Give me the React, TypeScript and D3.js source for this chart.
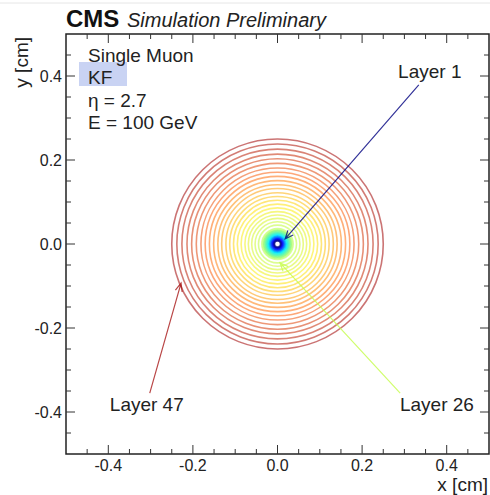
import React from 'react';
import * as d3 from 'd3';

// layer radii in cm (layer 1 .. 47)
const layerRadii = [
  0.0070, 0.0080, 0.0090, 0.0100, 0.0110, 0.0121, 0.0132, 0.0143, 0.0154, 0.0165,
  0.0176, 0.0187, 0.0198, 0.0209, 0.0220, 0.0232, 0.0244, 0.0256, 0.0268, 0.0281,
  0.0294, 0.0308, 0.0323, 0.0340, 0.0370, 0.0450, 0.0530, 0.0610, 0.0690, 0.0770,
  0.0860, 0.0950, 0.1040, 0.1130, 0.1220, 0.1320, 0.1410, 0.1510, 0.1610, 0.1710,
  0.1810, 0.1920, 0.2030, 0.2140, 0.2260, 0.2380, 0.2500,
];

const majorTicks = [-0.4, -0.2, 0.0, 0.2, 0.4];
const tickLabels = ['-0.4', '-0.2', '0.0', '0.2', '0.4'];

const infoLines = ['Single Muon', 'KF', 'η = 2.7', 'E = 100 GeV'];

// annotations: which layer, label position, arrow from -> to (cm)
const annotations = [
  { layer: 1, label: 'Layer 1', at: [0.36, 0.396], from: [0.334, 0.379], to: [0.018, 0.012] },
  { layer: 26, label: 'Layer 26', at: [0.377, -0.397], from: [0.29, -0.355], to: [0.006, -0.045] },
  { layer: 47, label: 'Layer 47', at: [-0.309, -0.397], from: [-0.302, -0.355], to: [-0.228, -0.093] },
];

// rainbow palette, layer 1 -> 47
const paletteStops = [0, 0.09, 0.28, 0.52, 0.66, 0.84, 1];
const paletteColors = ['#000080', '#0000ff', '#00f0ff', '#b8ff50', '#ffee20', '#ff7020', '#a81818'];
const FONT = 'Liberation Sans, Arial, Helvetica, sans-serif';

export default function App() {
  const x = d3.scaleLinear().domain([-0.5, 0.5]).range([66, 489]);
  const y = d3.scaleLinear().domain([-0.5, 0.5]).range([454, 34]);
  const palette = d3.scaleLinear<string>().domain(paletteStops).range(paletteColors).interpolate(d3.interpolateRgb);
  const color = (layer: number) => palette((layer - 1) / (layerRadii.length - 1));
  const minor = x.ticks(20);
  const left = x.range()[0], right = x.range()[1];
  const top = y.range()[1], bottom = y.range()[0];

  const arrowPath = (a: typeof annotations[0]) => {
    const x1 = x(a.from[0]), y1 = y(a.from[1]);
    const x2 = x(a.to[0]), y2 = y(a.to[1]);
    const ang = Math.atan2(y2 - y1, x2 - x1);
    const len = 9, spread = 0.4;
    const p1 = [x2 - len * Math.cos(ang - spread), y2 - len * Math.sin(ang - spread)];
    const p2 = [x2 - len * Math.cos(ang + spread), y2 - len * Math.sin(ang + spread)];
    return `M${x1},${y1}L${x2},${y2}M${p1[0]},${p1[1]}L${x2},${y2}L${p2[0]},${p2[1]}`;
  };

  return (
    <svg width={490} height={495} style={{ position: 'absolute', left: 0, top: 0 }} fontFamily={FONT}>
      <rect width={490} height={495} fill="#fff" />
      <line x1={0} x2={490} y1={3} y2={3} stroke="#e6e6e6" />

      {/* rings, outermost first */}
      {layerRadii.map((r, i) => ({ r, layer: i + 1 })).reverse().map(d => (
        <ellipse key={d.layer} cx={x(0)} cy={y(0)}
          rx={x(d.r) - x(0)} ry={y(0) - y(d.r)}
          fill="none" stroke={color(d.layer)} strokeWidth={1.6} strokeOpacity={0.6} />
      ))}

      {/* arrows + labels */}
      {annotations.map(a => (
        <g key={a.label}>
          <path d={arrowPath(a)} fill="none" stroke={color(a.layer)} strokeWidth={1.2} strokeOpacity={0.8} />
          <text x={x(a.at[0])} y={y(a.at[1])} textAnchor="middle" fontSize={19} fill="#222">{a.label}</text>
        </g>
      ))}

      {/* frame */}
      <rect x={left} y={top} width={right - left} height={bottom - top} fill="none" stroke="#222" strokeWidth={1.5} />

      {/* ticks on all four sides */}
      {minor.map(t => {
        const major = majorTicks.some(m => Math.abs(m - t) < 1e-6);
        const L = major ? 9 : 5;
        if (t <= -0.5 || t >= 0.5) return null;
        return (
          <g key={t} stroke="#333" strokeWidth={1}>
            <line x1={x(t)} x2={x(t)} y1={bottom} y2={bottom - L} />
            <line x1={x(t)} x2={x(t)} y1={top} y2={top + L} />
            <line x1={left} x2={left + L} y1={y(t)} y2={y(t)} />
            <line x1={right} x2={right - L} y1={y(t)} y2={y(t)} />
          </g>
        );
      })}

      {majorTicks.map((t, i) => (
        <g key={'l' + t} fontSize={16} fill="#222">
          <text x={x(t)} y={471} textAnchor="middle">{tickLabels[i]}</text>
          <text x={62} y={y(t)} dy="0.36em" textAnchor="end">{tickLabels[i]}</text>
        </g>
      ))}

      <text x={488} y={491} textAnchor="end" fontSize={19} fill="#222">x [cm]</text>
      <text transform="translate(28,37) rotate(-90)" textAnchor="end" fontSize={19} fill="#222">y [cm]</text>

      {/* header */}
      <text x={66} y={27} fontSize={24} fontWeight="bold" fill="#111">CMS</text>
      <text x={127} y={27} fontSize={20} fontStyle="italic" fill="#222">Simulation Preliminary</text>

      {/* info box */}
      <rect x={79} y={62} width={48} height={24} fill="#c9d3f3" />
      {infoLines.map((s, i) => (
        <text key={s} x={88} y={62 + i * 22.3} fontSize={19} fill="#222">{s}</text>
      ))}
    </svg>
  );
}
